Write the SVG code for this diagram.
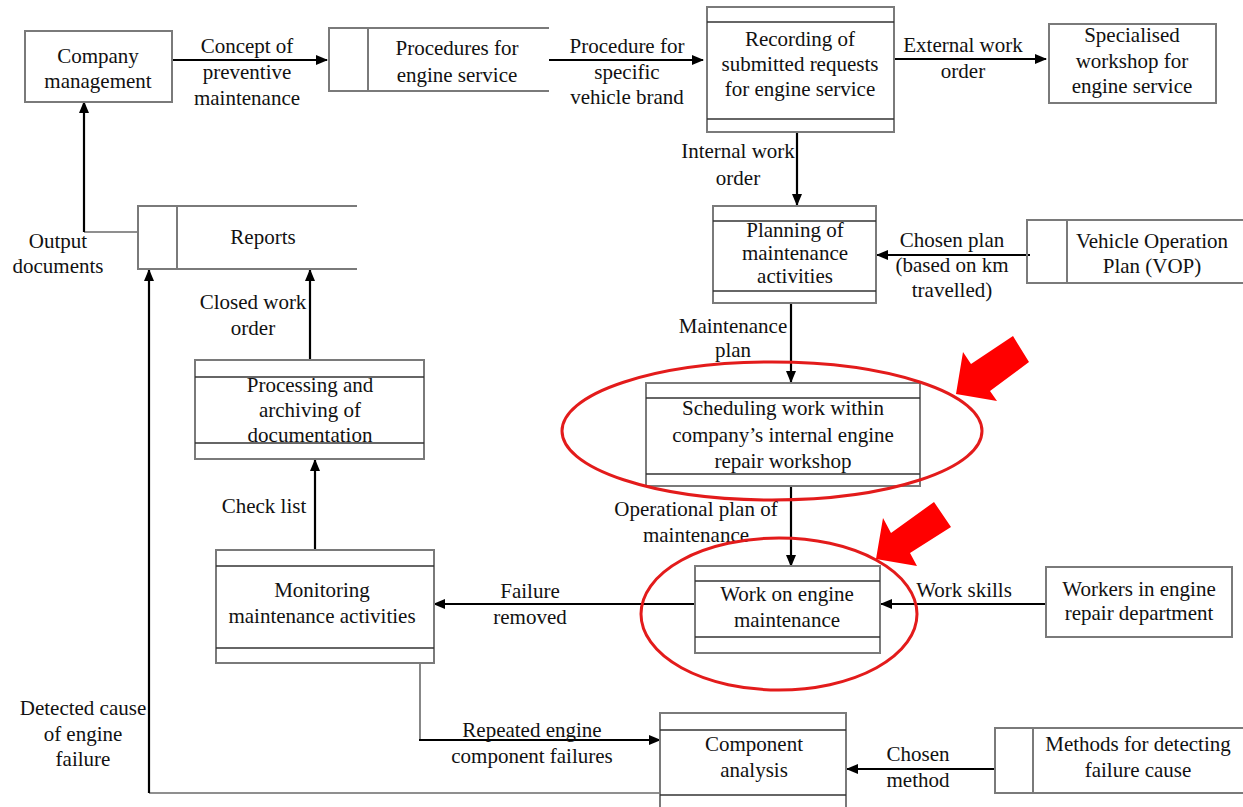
<svg xmlns="http://www.w3.org/2000/svg" width="1243" height="807" viewBox="0 0 1243 807">
<defs>
<marker id="ah" markerUnits="userSpaceOnUse" markerWidth="12" markerHeight="10" refX="11" refY="5" orient="auto">
<path d="M0,0 L12,5 L0,10 z" fill="#000"/>
</marker>
<style>
text{font-family:"Liberation Serif","Times New Roman",serif;font-size:21px;fill:#111;text-anchor:middle}
.box{fill:#fff;stroke:#7a7a7a;stroke-width:2}
.in{stroke:#333;stroke-width:1.5;fill:none}
.ds{stroke:#7a7a7a;stroke-width:2;fill:none}
.c{stroke:#000;stroke-width:2.2;fill:none}
.cg{stroke:#6a6a6a;stroke-width:1.6;fill:none}
.red{stroke:#e31b1b;stroke-width:3;fill:none}
.ra{fill:#ff0000}
</style>
</defs>
<rect width="1243" height="807" fill="#fff"/>

<g id="connectors">
<line class="c" x1="172" y1="60" x2="327" y2="60" marker-end="url(#ah)"/>
<line class="c" x1="549" y1="60" x2="703" y2="60" marker-end="url(#ah)"/>
<line class="c" x1="894" y1="59" x2="1046" y2="59" marker-end="url(#ah)"/>
<line class="c" x1="797" y1="133" x2="797" y2="205" marker-end="url(#ah)"/>
<line class="c" x1="1030" y1="255" x2="877" y2="255" marker-end="url(#ah)"/>
<line class="c" x1="791" y1="303" x2="791" y2="382" marker-end="url(#ah)"/>
<line class="c" x1="791" y1="486" x2="791" y2="566" marker-end="url(#ah)"/>
<line class="c" x1="1046" y1="604" x2="881" y2="604" marker-end="url(#ah)"/>
<line class="c" x1="695" y1="604" x2="434" y2="604" marker-end="url(#ah)"/>
<line class="c" x1="315" y1="550" x2="315" y2="460" marker-end="url(#ah)"/>
<line class="c" x1="310" y1="360" x2="310" y2="270" marker-end="url(#ah)"/>
<polyline class="cg" points="138,232 84,232"/>
<line class="c" x1="84" y1="232" x2="84" y2="102" marker-end="url(#ah)"/>
<polyline class="cg" points="420,663 420,740"/>
<line class="c" x1="419" y1="740" x2="660" y2="740" marker-end="url(#ah)"/>
<polyline class="cg" points="660,793 149,793"/>
<line class="c" x1="149" y1="793" x2="149" y2="270" marker-end="url(#ah)"/>
<line class="c" x1="995" y1="769" x2="847" y2="769" marker-end="url(#ah)"/>

<text x="247" y="53">Concept of</text>
<text x="247" y="79">preventive</text>
<text x="247" y="105">maintenance</text>
<text x="627" y="53">Procedure for</text>
<text x="627" y="79">specific</text>
<text x="627" y="104">vehicle brand</text>
<text x="963" y="52">External work</text>
<text x="963" y="78">order</text>
<text x="738" y="158">Internal work</text>
<text x="738" y="185">order</text>
<text x="952" y="247">Chosen plan</text>
<text x="952" y="272">(based on km</text>
<text x="952" y="297">travelled)</text>
<text x="733" y="333">Maintenance</text>
<text x="733" y="357">plan</text>
<text x="696" y="516">Operational plan of</text>
<text x="696" y="542">maintenance</text>
<text x="964" y="597">Work skills</text>
<text x="530" y="598">Failure</text>
<text x="530" y="624">removed</text>
<text x="264" y="513">Check list</text>
<text x="253" y="309">Closed work</text>
<text x="253" y="335">order</text>
<text x="58" y="248">Output</text>
<text x="58" y="273">documents</text>
<text x="83" y="715">Detected cause</text>
<text x="83" y="741">of engine</text>
<text x="83" y="766">failure</text>
<text x="532" y="737">Repeated engine</text>
<text x="532" y="763">component failures</text>
<text x="918" y="761">Chosen</text>
<text x="918" y="787">method</text>
</g>

<g id="company-management">
<rect class="box" x="25" y="31" width="147" height="71"/>
<text x="98" y="63">Company</text>
<text x="98" y="88">management</text>
</g>

<g id="procedures-store">
<path class="ds" d="M549,28 H329 V91 H549 M368,28 V91"/>
<text x="457" y="55">Procedures for</text>
<text x="457" y="82">engine service</text>
</g>

<g id="recording">
<rect class="box" x="707" y="7" width="187" height="125"/>
<line class="in" x1="707" y1="22" x2="894" y2="22"/>
<line class="in" x1="707" y1="119" x2="894" y2="119"/>
<text x="800" y="46">Recording of</text>
<text x="800" y="71">submitted requests</text>
<text x="800" y="96">for engine service</text>
</g>

<g id="specialised-workshop">
<rect class="box" x="1049" y="24" width="167" height="79"/>
<text x="1132" y="42">Specialised</text>
<text x="1132" y="68">workshop for</text>
<text x="1132" y="93">engine service</text>
</g>

<g id="planning">
<rect class="box" x="713" y="206" width="163" height="97"/>
<line class="in" x1="713" y1="221" x2="876" y2="221"/>
<line class="in" x1="713" y1="291" x2="876" y2="291"/>
<text x="795" y="237">Planning of</text>
<text x="795" y="260">maintenance</text>
<text x="795" y="283">activities</text>
</g>

<g id="vop-store">
<path class="ds" d="M1243,220 H1027 V283 H1243 M1067,220 V283"/>
<text x="1152" y="248">Vehicle Operation</text>
<text x="1152" y="273">Plan (VOP)</text>
</g>

<g id="scheduling">
<rect class="box" x="646" y="383" width="274" height="103"/>
<line class="in" x1="646" y1="398" x2="920" y2="398"/>
<line class="in" x1="646" y1="474" x2="920" y2="474"/>
<text x="783" y="415">Scheduling work within</text>
<text x="783" y="442">company’s internal engine</text>
<text x="783" y="468">repair workshop</text>
</g>

<g id="work-maintenance">
<rect class="box" x="695" y="566" width="185" height="87"/>
<line class="in" x1="695" y1="581" x2="880" y2="581"/>
<line class="in" x1="695" y1="637" x2="880" y2="637"/>
<text x="787" y="601">Work on engine</text>
<text x="787" y="627">maintenance</text>
</g>

<g id="workers">
<rect class="box" x="1046" y="567" width="186" height="70"/>
<text x="1139" y="596">Workers in engine</text>
<text x="1139" y="620">repair department</text>
</g>

<g id="monitoring">
<rect class="box" x="216" y="550" width="218" height="113"/>
<line class="in" x1="216" y1="566" x2="434" y2="566"/>
<line class="in" x1="216" y1="648" x2="434" y2="648"/>
<text x="322" y="597">Monitoring</text>
<text x="322" y="623">maintenance activities</text>
</g>

<g id="processing">
<rect class="box" x="195" y="360" width="229" height="99"/>
<line class="in" x1="195" y1="377" x2="424" y2="377"/>
<text x="310" y="392">Processing and</text>
<text x="310" y="417">archiving of</text>
<text x="310" y="442">documentation</text>
<line class="in" x1="195" y1="443" x2="424" y2="443"/>
</g>

<g id="reports-store">
<path class="ds" d="M357,206 H138 V269 H357 M177,206 V269"/>
<text x="263" y="244">Reports</text>
</g>

<g id="component-analysis">
<rect class="box" x="660" y="713" width="186" height="100"/>
<line class="in" x1="660" y1="730" x2="846" y2="730"/>
<line class="in" x1="660" y1="795" x2="846" y2="795"/>
<text x="754" y="751">Component</text>
<text x="754" y="777">analysis</text>
</g>

<g id="methods-store">
<path class="ds" d="M1243,728 H995 V793 H1243 M1033,728 V793"/>
<text x="1138" y="751">Methods for detecting</text>
<text x="1138" y="777">failure cause</text>
</g>

<g id="highlights">
<ellipse class="red" cx="772" cy="431" rx="210" ry="69"/>
<ellipse class="red" cx="779" cy="614" rx="138" ry="76"/>
<polygon class="ra" points="956,394 963,352 971,364 1013,336 1029,362 990,391 997,401"/>
<polygon class="ra" points="876,559 883,518 891,533 934,502 951,527 910,553 917,566"/>
</g>
</svg>
